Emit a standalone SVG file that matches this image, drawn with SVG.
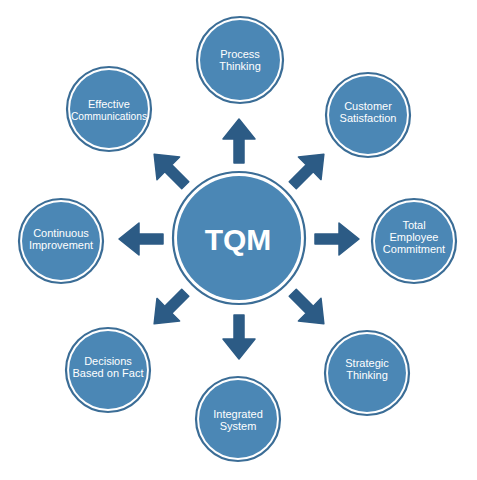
<svg xmlns="http://www.w3.org/2000/svg" width="477" height="480" viewBox="0 0 477 480">
<style>
.ring{fill:none;stroke:#3b6d96;stroke-width:2.2}
.fill{fill:#4b87b5}
.lbl{font-family:"Liberation Sans",Arial,sans-serif;font-size:11px;fill:#ffffff;text-anchor:middle}
.big{font-family:"Liberation Sans",Arial,sans-serif;font-size:30px;font-weight:bold;fill:#ffffff;text-anchor:middle}
.arr{fill:#2c5b85;stroke:#2c5b85;stroke-width:1.5;stroke-linejoin:round}
</style>
<defs>
<path id="arrow" d="M76,-5 L100,-5 L100,-16 L120,0 L100,16 L100,5 L76,5 Z"/>
</defs>
<rect width="477" height="480" fill="#ffffff"/>
<g id="connectors" class="arr" transform="translate(239,239)">
<use href="#arrow" transform="rotate(-90)"/>
<use href="#arrow" transform="rotate(-45)"/>
<use href="#arrow" transform="rotate(0)"/>
<use href="#arrow" transform="rotate(45)"/>
<use href="#arrow" transform="rotate(90)"/>
<use href="#arrow" transform="rotate(135)"/>
<use href="#arrow" transform="rotate(180)"/>
<use href="#arrow" transform="rotate(225)"/>
</g>
<g id="tqm">
<circle class="ring" cx="239" cy="238" r="66"/>
<circle class="fill" cx="239" cy="238" r="62"/>
<text class="big" x="238" y="250">TQM</text>
</g>
<g id="process-thinking">
<circle class="ring" cx="240" cy="60" r="43"/>
<circle class="fill" cx="240" cy="60" r="40"/>
<text class="lbl" x="240" y="58">Process</text>
<text class="lbl" x="240" y="70">Thinking</text>
</g>
<g id="customer-satisfaction">
<circle class="ring" cx="368" cy="115" r="42"/>
<circle class="fill" cx="368" cy="115" r="39"/>
<text class="lbl" x="368" y="110">Customer</text>
<text class="lbl" x="368" y="122">Satisfaction</text>
</g>
<g id="total-employee-commitment">
<circle class="ring" cx="414" cy="241" r="42"/>
<circle class="fill" cx="414" cy="241" r="39"/>
<text class="lbl" x="414" y="229">Total</text>
<text class="lbl" x="414" y="241">Employee</text>
<text class="lbl" x="414" y="253">Commitment</text>
</g>
<g id="strategic-thinking">
<circle class="ring" cx="367" cy="373" r="42"/>
<circle class="fill" cx="367" cy="373" r="39"/>
<text class="lbl" x="367" y="367">Strategic</text>
<text class="lbl" x="367" y="379">Thinking</text>
</g>
<g id="integrated-system">
<circle class="ring" cx="238" cy="419" r="42"/>
<circle class="fill" cx="238" cy="419" r="39"/>
<text class="lbl" x="238" y="418">Integrated</text>
<text class="lbl" x="238" y="430">System</text>
</g>
<g id="decisions-based-on-fact">
<circle class="ring" cx="108" cy="370" r="42"/>
<circle class="fill" cx="108" cy="370" r="39"/>
<text class="lbl" x="108" y="365">Decisions</text>
<text class="lbl" x="108" y="377">Based on Fact</text>
</g>
<g id="continuous-improvement">
<circle class="ring" cx="61" cy="241" r="42"/>
<circle class="fill" cx="61" cy="241" r="39"/>
<text class="lbl" x="61" y="237">Continuous</text>
<text class="lbl" x="61" y="249">Improvement</text>
</g>
<g id="effective-communications">
<circle class="ring" cx="109" cy="109" r="42"/>
<circle class="fill" cx="109" cy="109" r="39"/>
<text class="lbl" x="109" y="108">Effective</text>
<text class="lbl" x="109" y="120" textLength="76" lengthAdjust="spacingAndGlyphs">Communications</text>
</g>
</svg>
